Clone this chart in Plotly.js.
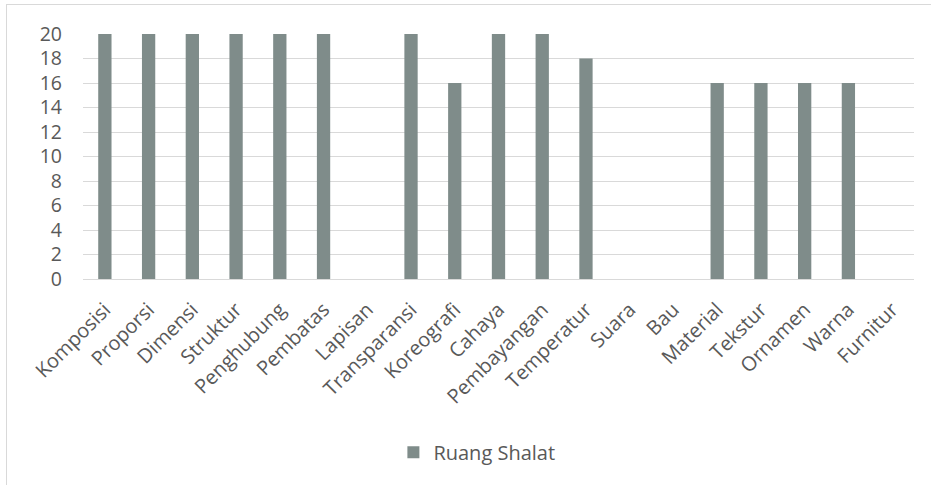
<!DOCTYPE html>
<html>
<head>
<meta charset="utf-8">
<script src="https://cdn.plot.ly/plotly-3.0.1.min.js"></script>
<style>
  html, body { margin: 0; padding: 0; width: 931px; height: 485px; overflow: hidden; background: #ffffff; }
  #frame { position: absolute; left: 6px; top: 4px; width: 946px; height: 500px; border: 1px solid #d9d9d9; box-sizing: border-box; }
  #chart { position: absolute; left: 0; top: 0; width: 931px; height: 485px; }
</style>
</head>
<body>
<div id="frame"></div>
<div id="chart"></div>
<script>
// Aspek yang ditinjau pada ruang shalat
const categories = [
  "Komposisi", "Proporsi", "Dimensi", "Struktur", "Penghubung", "Pembatas",
  "Lapisan", "Transparansi", "Koreografi", "Cahaya", "Pembayangan", "Temperatur",
  "Suara", "Bau", "Material", "Tekstur", "Ornamen", "Warna", "Furnitur"
];
const ruangShalat = [20, 20, 20, 20, 20, 20, 0, 20, 16, 20, 20, 18, 0, 0, 16, 16, 16, 16, 0];
const yTicks = [0, 2, 4, 6, 8, 10, 12, 14, 16, 18, 20];
const seriesName = "Ruang Shalat";

const textColor = "#595959";
const gridColor = "#d9d9d9";
const fontFamily = "'Open Sans', sans-serif";

const traces = [{
  type: "bar",
  x: categories,
  y: ruangShalat,
  name: seriesName,
  marker: { color: "#7f8c8a" },
  hoverinfo: "x+y"
}];

const layout = {
  width: 931,
  height: 485,
  margin: { l: 83, r: 17, t: 34, b: 206 },
  paper_bgcolor: "rgba(0,0,0,0)",
  plot_bgcolor: "rgba(0,0,0,0)",
  bargap: 0.696,
  showlegend: true,
  font: { family: fontFamily, color: textColor, size: 19 },
  xaxis: {
    type: "category",
    tickangle: -45,
    tickfont: { family: fontFamily, color: textColor, size: 20 },
    showgrid: false,
    showline: true,
    linecolor: gridColor,
    linewidth: 1,
    ticks: "",
    ticklabelstandoff: 10,
    fixedrange: true
  },
  yaxis: {
    range: [0, 20],
    tickvals: yTicks,
    ticktext: yTicks.map(String),
    tickfont: { family: fontFamily, color: textColor, size: 19.5 },
    showgrid: true,
    gridcolor: gridColor,
    gridwidth: 1,
    zeroline: true,
    zerolinecolor: gridColor,
    zerolinewidth: 1,
    showline: false,
    ticks: "",
    ticklabelstandoff: 20,
    fixedrange: true
  },
  legend: {
    orientation: "h",
    x: 0.474,
    xanchor: "center",
    y: -0.7076,
    yanchor: "middle",
    font: { family: fontFamily, color: textColor, size: 20 },
    itemwidth: 30,
    bgcolor: "rgba(0,0,0,0)"
  }
};

Plotly.newPlot("chart", traces, layout, { displayModeBar: false, staticPlot: true });
</script>
</body>
</html>
